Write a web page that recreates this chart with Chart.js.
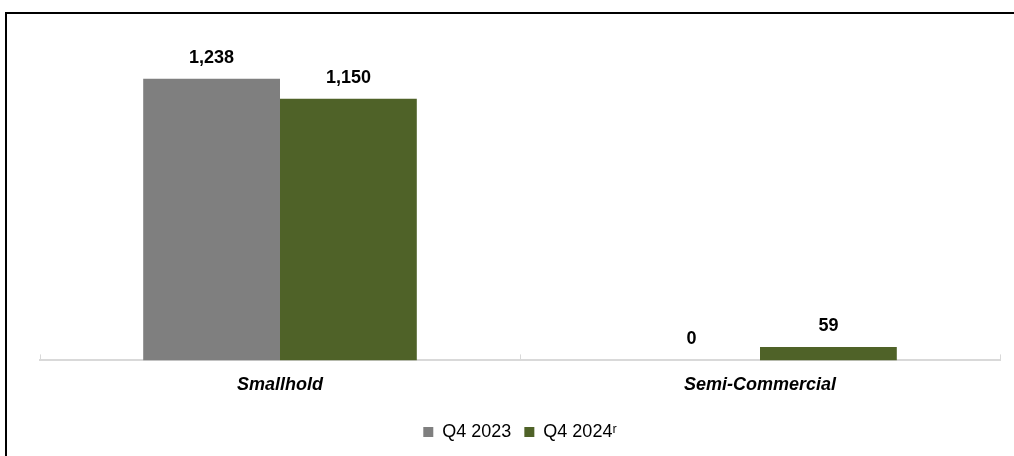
<!DOCTYPE html>
<html>
<head>
<meta charset="utf-8">
<script src="https://cdn.jsdelivr.net/npm/chart.js@4"></script>
<style>
  html, body { margin: 0; padding: 0; background: #fff; overflow: hidden; }
  #frame { position: absolute; left: 5px; top: 12px; width: 1040px; height: 480px; border: 2px solid #000; }
  #wrap { position: absolute; left: 0; top: 0; width: 1014px; height: 456px; }
</style>
</head>
<body>
<div id="frame"></div>
<div id="wrap"><canvas id="chart"></canvas></div>
<script>
// === данные ===
const categories = ['Smallhold', 'Semi-Commercial'];
const q4_2023 = [1238, 0];
const q4_2024 = [1150, 59];
const seriesNames = ['Q4 2023', 'Q4 2024\u02B3'];

const FONT = 'Arial, "Liberation Sans", sans-serif';

// подписи над столбцами + засечки оси
const labelsPlugin = {
  id: 'barLabels',
  afterDatasetsDraw(chart) {
    const ctx = chart.ctx;
    ctx.save();
    ctx.font = 'bold 18px ' + FONT;
    ctx.fillStyle = '#000';
    ctx.textAlign = 'center';
    ctx.textBaseline = 'middle';
    chart.data.datasets.forEach((ds, i) => {
      chart.getDatasetMeta(i).data.forEach((bar, j) => {
        ctx.fillText(ds.data[j].toLocaleString('en-US'), bar.x, bar.y - 21);
      });
    });
    // засечки
    const x = chart.scales.x, y0 = chart.scales.y.getPixelForValue(0);
    const mid = (x.getPixelForValue(0) + x.getPixelForValue(1)) / 2;
    ctx.strokeStyle = '#d9d9d9';
    ctx.lineWidth = 1;
    [x.left, mid, x.right].forEach(px => {
      ctx.beginPath();
      ctx.moveTo(Math.round(px) + 0.5, y0 - 6);
      ctx.lineTo(Math.round(px) + 0.5, y0);
      ctx.stroke();
    });
    ctx.restore();
  }
};

new Chart(document.getElementById('chart'), {
  type: 'bar',
  data: {
    labels: categories,
    datasets: [
      { label: seriesNames[0], data: q4_2023, backgroundColor: '#7f7f7f' },
      { label: seriesNames[1], data: q4_2024, backgroundColor: '#4f6228' }
    ]
  },
  options: {
    responsive: true,
    maintainAspectRatio: false,
    animation: false,
    datasets: { bar: { categoryPercentage: 0.57, barPercentage: 1.0 } },
    layout: { padding: { left: 40, right: 14, top: 42, bottom: 5 } },
    plugins: {
      legend: {
        position: 'bottom',
        labels: { boxWidth: 10, boxHeight: 10, color: '#000', font: { family: FONT, size: 18 }, padding: 13 }
      },
      tooltip: { enabled: false }
    },
    scales: {
      x: {
        grid: { display: false, drawTicks: false },
        border: { display: true, color: '#d9d9d9', width: 2 },
        ticks: { color: '#000', padding: 14, font: { family: FONT, size: 18, weight: 'bold', style: 'italic' } }
      },
      y: {
        display: false,
        min: 0,
        max: 1400
      }
    }
  },
  plugins: [labelsPlugin]
});
</script>
</body>
</html>
